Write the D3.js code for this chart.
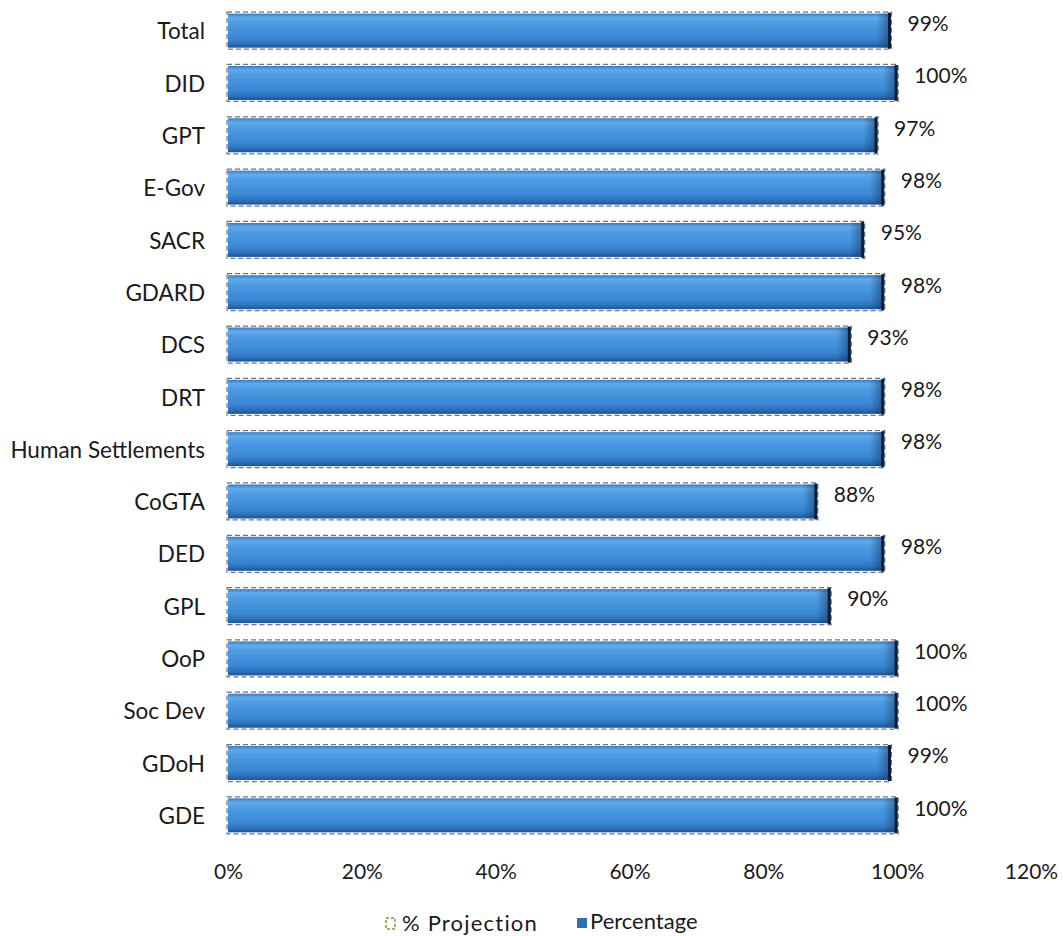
<!DOCTYPE html>
<html>
<head>
<meta charset="utf-8">
<script src="https://cdn.jsdelivr.net/npm/d3@7/dist/d3.min.js"></script>
<style>
  body { margin: 0; background: #fff; }
  svg text { font-family: Lato, "Open Sans", sans-serif; fill: #1a1a1a; }
</style>
</head>
<body>
<svg id="chart" width="1063" height="936"></svg>
<script>
const categories = ["Total","DID","GPT","E-Gov","SACR","GDARD","DCS","DRT","Human Settlements","CoGTA","DED","GPL","OoP","Soc Dev","GDoH","GDE"];
const percentage = [0.99,1.00,0.97,0.98,0.95,0.98,0.93,0.98,0.98,0.88,0.98,0.90,1.00,1.00,0.99,1.00];
const projection = [0.99,1.00,0.97,0.98,0.95,0.98,0.93,0.98,0.98,0.88,0.98,0.90,1.00,1.00,0.99,1.00];
const xTicks = [0,0.2,0.4,0.6,0.8,1.0,1.2];
const seriesNames = ["% Projection","Percentage"];

const svg = d3.select("#chart");
const defs = svg.append("defs");
const g = defs.append("linearGradient").attr("id","barGrad").attr("x1",0).attr("y1",0).attr("x2",0).attr("y2",1);
[[0,"#3080cc"],[0.12,"#62aaea"],[0.28,"#4c9be2"],[0.7,"#3b89d6"],[0.88,"#2e72ba"],[1,"#1f528a"]]
  .forEach(([o,c]) => g.append("stop").attr("offset",o).attr("stop-color",c));
const e = defs.append("linearGradient").attr("id","endGrad").attr("x1",0).attr("y1",0).attr("x2",1).attr("y2",0);
[[0,"rgba(20,50,90,0)"],[1,"rgba(20,50,90,0.55)"]].forEach(([o,c]) => e.append("stop").attr("offset",o).attr("stop-color",c));

const x = d3.scaleLinear().domain([0,1.2]).range([228,1031]);
const y = d3.scaleBand().domain(categories).range([4.5,841.5]).paddingInner(0.35).paddingOuter(0.175);
const bw = y.bandwidth();

// projection outlines (dashed)
svg.append("g").selectAll("rect").data(categories).join("rect")
  .attr("x", x(0) - 1)
  .attr("y", d => y(d) - 1.5)
  .attr("width", (d,i) => x(projection[i]) - x(0) + 2)
  .attr("height", bw + 3)
  .attr("fill","none")
  .attr("stroke","#6b7480")
  .attr("stroke-width",1.2)
  .attr("stroke-dasharray","5,3");

// percentage bars
const bars = svg.append("g");
bars.selectAll("rect.bar").data(categories).join("rect")
  .attr("class","bar")
  .attr("x", x(0))
  .attr("y", d => y(d))
  .attr("width", (d,i) => x(percentage[i]) - x(0))
  .attr("height", bw)
  .attr("fill","url(#barGrad)");
bars.selectAll("rect.endshade").data(categories).join("rect")
  .attr("class","endshade")
  .attr("x", (d,i) => x(percentage[i]) - 14)
  .attr("y", d => y(d))
  .attr("width", 14)
  .attr("height", bw)
  .attr("fill","url(#endGrad)");
bars.selectAll("rect.cap").data(categories).join("rect")
  .attr("class","cap")
  .attr("x", (d,i) => x(percentage[i]) - 2.5)
  .attr("y", d => y(d) - 1)
  .attr("width", 3)
  .attr("height", bw + 2)
  .attr("fill","#0f1d2e");

// value labels
svg.append("g").selectAll("text").data(categories).join("text")
  .attr("x", (d,i) => x(percentage[i]) + 17)
  .attr("y", d => y(d) + bw/2 - 5)
  .attr("dominant-baseline","middle")
  .attr("font-size", 21)
  .text((d,i) => d3.format(".0%")(percentage[i]));

// category labels
svg.append("g").selectAll("text").data(categories).join("text")
  .attr("x", 205)
  .attr("y", d => y(d) + bw/2 + 3)
  .attr("text-anchor","end")
  .attr("dominant-baseline","middle")
  .attr("font-size", 22.5)
  .text(d => d);

// x axis
const ax = svg.append("g").attr("transform","translate(0,861)")
  .call(d3.axisBottom(x).tickValues(xTicks).tickFormat(d3.format(".0%")).tickSize(0));
ax.select(".domain").remove();
ax.selectAll("text").attr("font-size",21).attr("font-family","Lato, 'Open Sans', sans-serif").attr("fill","#1a1a1a");

// legend
const leg = svg.append("g");
leg.append("rect").attr("x",386).attr("y",918).attr("width",9).attr("height",11)
  .attr("fill","none").attr("stroke","#7a9a3a").attr("stroke-width",1.5).attr("stroke-dasharray","3,2");
leg.append("text").attr("x",402).attr("y",925).attr("dominant-baseline","middle").attr("font-size",22).attr("letter-spacing",1.2).text(seriesNames[0]);
leg.append("rect").attr("x",577).attr("y",918).attr("width",10).attr("height",10).attr("fill","#2d6fb6");
leg.append("text").attr("x",590).attr("y",923).attr("dominant-baseline","middle").attr("font-size",22).text(seriesNames[1]);
</script>
</body>
</html>
